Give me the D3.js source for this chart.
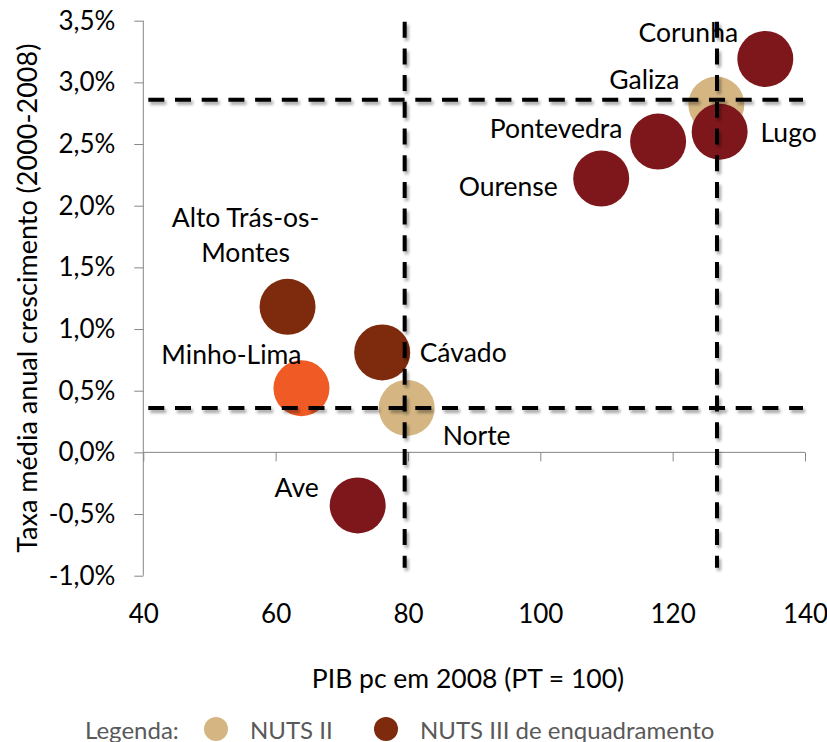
<!DOCTYPE html>
<html>
<head>
<meta charset="utf-8">
<script src="https://cdn.jsdelivr.net/npm/d3@7"></script>
<style>
  body { margin: 0; background: #fff; }
  svg { font-family: Lato, "Open Sans", sans-serif; }
  .axis path, .axis line { stroke: #868686; }
  .axis text { fill: #000; font-size: 26px; font-family: Lato, sans-serif; }
  .label { font-size: 26.5px; fill: #000; }
</style>
</head>
<body>
<div id="chart"></div>
<script>
// regions, PIB pc 2008 (PT = 100) and average annual growth 2000-2008
const regions = ['Galiza', 'Norte', 'Corunha', 'Lugo', 'Pontevedra', 'Ourense',
                 'Alto Trás-os-Montes', 'Minho-Lima', 'Cávado', 'Ave'];
const pibPc = [126.6, 79.8, 134.0, 127.1, 117.8, 109.2, 61.8, 63.9, 76.1, 72.4];
const growth = [0.0282, 0.0036, 0.0319, 0.0260, 0.0252, 0.0222, 0.0118, 0.0052, 0.0081, -0.0043];
const level = ['NUTS II', 'NUTS II', 'NUTS III', 'NUTS III', 'NUTS III', 'NUTS III',
               'NUTS III', 'NUTS III', 'NUTS III', 'NUTS III'];

// reference (average) lines
const refX = [79.5, 126.7];
const refY = [0.0036, 0.0286];

const xTicks = [40, 60, 80, 100, 120, 140];
const yTicks = [-0.01, -0.005, 0, 0.005, 0.01, 0.015, 0.02, 0.025, 0.03, 0.035];

const legendItems = ['NUTS II', 'NUTS III de enquadramento'];

// styling / layout (not data)
const fills = ['#d5b683', '#d5b683', '#7e171b', '#7e171b', '#7e171b', '#7e171b',
               '#7e2a0c', '#f05a24', '#7e2a0c', '#7e171b'];
const labelLines = [['Galiza'], ['Norte'], ['Corunha'], ['Lugo'], ['Pontevedra'], ['Ourense'],
                    ['Alto Trás-os-', 'Montes'], ['Minho-Lima'], ['Cávado'], ['Ave']];
const labelOffsets = [[-72, -26], [70, 27], [-77, -27], [69, 0], [-102, -14], [-93, 7],
                      [-42, -90], [-70, -34], [81, 0], [-61, -18]];

const W = 827, H = 742;
const margin = { top: 20.7, right: 22, bottom: 166.3, left: 143.3 };

const pt = d3.formatLocale({ decimal: ',', thousands: '.', grouping: [3], currency: ['', ' €'], minus: '-' });
const fmtPct = pt.format('.1%');

const svg = d3.select('#chart').append('svg')
    .attr('width', W)
    .attr('height', H);

const defs = svg.append('defs');
const shadow = defs.append('filter').attr('id', 'shadow')
    .attr('x', '-10%').attr('y', '-10%').attr('width', '120%').attr('height', '120%');
shadow.append('feDropShadow')
    .attr('dx', 2).attr('dy', 3).attr('stdDeviation', 1.6)
    .attr('flood-color', '#000').attr('flood-opacity', 0.35);

const x = d3.scaleLinear().domain([40, 140]).range([margin.left, W - margin.right]);
const y = d3.scaleLinear().domain([-0.01, 0.035]).range([H - margin.bottom, margin.top]);

// y axis
svg.append('g')
    .attr('class', 'axis')
    .attr('transform', `translate(${x(40)},0)`)
    .call(d3.axisLeft(y).tickValues(yTicks).tickSize(9).tickPadding(19).tickSizeOuter(0).tickFormat(fmtPct))
    .call(g => g.select('.domain').attr('d', `M0,${y(0.035)}V${y(-0.01)}`));

// x axis line at zero, ticks pointing down
svg.append('g')
    .attr('class', 'axis')
    .attr('transform', `translate(0,${y(0)})`)
    .call(d3.axisBottom(x).tickValues(xTicks).tickSize(9).tickSizeOuter(0).tickFormat(''))
    .call(g => g.select('.domain').attr('d', `M${x(40)},0H${x(140)}`));

// x tick labels at the bottom of the plot area
svg.append('g')
    .attr('class', 'axis')
    .attr('transform', `translate(0,${y(-0.01)})`)
    .call(d3.axisBottom(x).tickValues(xTicks).tickSize(0).tickPadding(29).tickFormat(d3.format('d')))
    .call(g => g.select('.domain').remove());

// axis titles
svg.append('text')
    .attr('transform', `translate(26,${(y(0.035) + y(-0.01)) / 2}) rotate(-90)`)
    .attr('text-anchor', 'middle')
    .attr('dominant-baseline', 'central')
    .style('font-size', '27px')
    .text('Taxa média anual crescimento (2000-2008)');

svg.append('text')
    .attr('x', 468)
    .attr('y', 678)
    .attr('text-anchor', 'middle')
    .attr('dominant-baseline', 'central')
    .style('font-size', '26.5px')
    .text('PIB pc em 2008 (PT = 100)');

// bubbles
const points = regions.map((r, i) => ({ name: r, x: pibPc[i], y: growth[i], level: level[i], i }));
const R = 28;

svg.append('g').selectAll('circle')
    .data(points)
    .join('circle')
    .attr('cx', d => x(d.x))
    .attr('cy', d => y(d.y))
    .attr('r', R)
    .attr('fill', d => fills[d.i]);

// dashed reference lines
const refs = svg.append('g')
    .attr('filter', 'url(#shadow)')
    .attr('stroke', '#000')
    .attr('stroke-width', 4)
    .attr('stroke-dasharray', '16 10.7');

refs.selectAll('.hline')
    .data(refY)
    .join('line')
    .attr('class', 'hline')
    .attr('x1', x(40) + 5).attr('x2', x(140) - 2)
    .attr('y1', d => y(d)).attr('y2', d => y(d));

refs.selectAll('.vline')
    .data(refX)
    .join('line')
    .attr('class', 'vline')
    .attr('x1', d => x(d)).attr('x2', d => x(d))
    .attr('y1', y(0.035) + 1).attr('y2', y(-0.01) - 8);

// data labels
const labels = svg.append('g').selectAll('text')
    .data(points)
    .join('text')
    .attr('class', 'label')
    .attr('text-anchor', 'middle')
    .attr('dominant-baseline', 'central')
    .attr('x', d => x(d.x) + labelOffsets[d.i][0])
    .attr('y', d => y(d.y) + labelOffsets[d.i][1]);

labels.each(function (d) {
    const lines = labelLines[d.i];
    d3.select(this).selectAll('tspan')
        .data(lines)
        .join('tspan')
        .attr('x', x(d.x) + labelOffsets[d.i][0])
        .attr('dy', (l, k) => k === 0 ? 0 : 35)
        .text(l => l);
});

// legend
const legend = svg.append('g')
    .attr('transform', 'translate(0,729)')
    .style('font-size', '24px')
    .style('fill', '#595959');

legend.append('text')
    .attr('x', 85)
    .attr('dominant-baseline', 'central')
    .text('Legenda:');

const legendX = [216, 386];
const legendFill = ['#d5b683', '#7e2a0c'];

legend.selectAll('circle')
    .data(legendItems)
    .join('circle')
    .attr('cx', (d, i) => legendX[i])
    .attr('cy', 0)
    .attr('r', 12)
    .attr('fill', (d, i) => legendFill[i]);

legend.selectAll('.leg')
    .data(legendItems)
    .join('text')
    .attr('class', 'leg')
    .attr('x', (d, i) => legendX[i] + 34)
    .attr('dominant-baseline', 'central')
    .text(d => d);
</script>
</body>
</html>
